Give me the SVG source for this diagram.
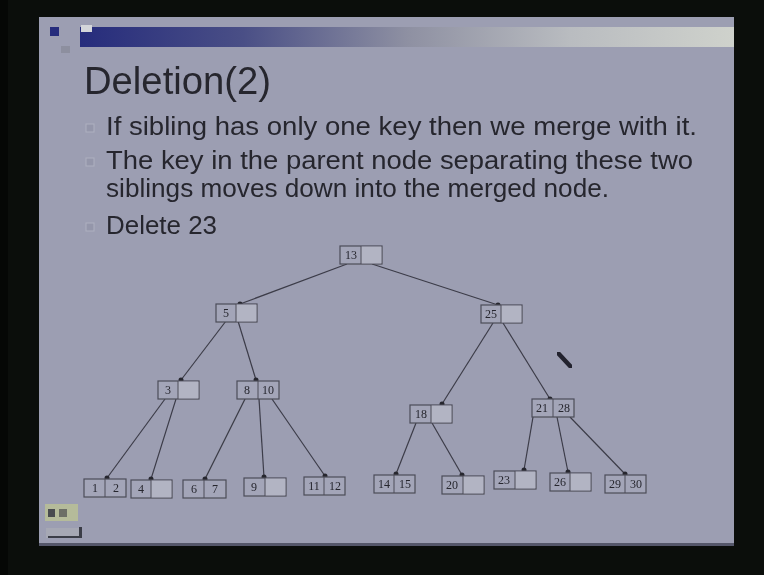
<svg xmlns="http://www.w3.org/2000/svg" width="764" height="575" viewBox="0 0 764 575">
  <defs>
    <linearGradient id="bar" x1="0" y1="0" x2="1" y2="0">
      <stop offset="0" stop-color="#262c7c"/>
      <stop offset="0.25" stop-color="#4a4f86"/>
      <stop offset="0.5" stop-color="#8e90a2"/>
      <stop offset="0.75" stop-color="#b9bcc0"/>
      <stop offset="1" stop-color="#cfd2cc"/>
    </linearGradient>
    <filter id="soft" x="-5%" y="-5%" width="110%" height="110%">
      <feGaussianBlur stdDeviation="0.6"/>
    </filter>
  </defs>
  <style>
    .txt { font-family: "Liberation Sans", Arial, sans-serif; fill: #26262e; }
    .title { font-size: 38px; }
    .body { font-size: 26px; }
    .bullet { fill: #9496aa; stroke: #aeb0c0; stroke-width: 1; }
    .box { fill: #a3a5b8; stroke: #4c4c58; stroke-width: 1.2; }
    .empty { fill: #b2b4c3; }
    .div { stroke: #4c4c58; stroke-width: 1; }
    .key { font-family: "Liberation Serif", "Times New Roman", serif; font-size: 12px; fill: #26262e; text-anchor: middle; }
    .edge { stroke: #3c3c48; stroke-width: 1.2; fill: none; }
    .dot { fill: #26262e; }
  </style>

  <!-- screen surround -->
  <rect x="0" y="0" width="764" height="575" fill="#0b0e0b"/>
  <rect x="0" y="0" width="8" height="575" fill="#050705"/>

  <!-- slide -->
  <rect x="39" y="17" width="695" height="529" fill="#9c9eb2"/>
  <rect x="39" y="543" width="695" height="3" fill="#55576a"/>

  <!-- header decoration -->
  <rect x="80" y="27" width="654" height="20" fill="url(#bar)"/>
  <rect x="50" y="27" width="9" height="9" fill="#262c7c"/>
  <rect x="81" y="25" width="11" height="7" fill="#d4d6da"/>
  <rect x="61" y="46" width="9" height="7" fill="#8d8f9f"/>

  <g filter="url(#soft)">
    <!-- title and bullets -->
    <text class="txt title" x="84" y="94" textLength="187" lengthAdjust="spacingAndGlyphs">Deletion(2)</text>

    <rect class="bullet" x="86" y="124" width="8" height="8"/>
    <text class="txt body" x="106" y="135" textLength="591" lengthAdjust="spacingAndGlyphs">If sibling has only one key then we merge with it.</text>
    <rect class="bullet" x="86" y="158" width="8" height="8"/>
    <text class="txt body" x="106" y="169" textLength="587" lengthAdjust="spacingAndGlyphs">The key in the parent node separating these two</text>
    <text class="txt body" x="106" y="197" textLength="503" lengthAdjust="spacingAndGlyphs">siblings moves down into the merged node.</text>
    <rect class="bullet" x="86" y="223" width="8" height="8"/>
    <text class="txt body" x="106" y="234" textLength="111" lengthAdjust="spacingAndGlyphs">Delete 23</text>

    <!-- connectors -->
    <g id="edges">
      <line class="edge" x1="347" y1="264" x2="240" y2="304"/>
      <line class="edge" x1="372" y1="264" x2="498" y2="305"/>
      <line class="edge" x1="226" y1="321" x2="181" y2="380"/>
      <line class="edge" x1="238" y1="321" x2="256" y2="380"/>
      <line class="edge" x1="493" y1="323" x2="442" y2="404"/>
      <line class="edge" x1="503" y1="323" x2="550" y2="399"/>
      <line class="edge" x1="165" y1="399" x2="107" y2="478"/>
      <line class="edge" x1="176" y1="399" x2="151" y2="479"/>
      <line class="edge" x1="245" y1="399" x2="205" y2="479"/>
      <line class="edge" x1="259" y1="399" x2="264" y2="477"/>
      <line class="edge" x1="272" y1="399" x2="325" y2="476"/>
      <line class="edge" x1="416" y1="423" x2="396" y2="474"/>
      <line class="edge" x1="432" y1="423" x2="462" y2="475"/>
      <line class="edge" x1="533" y1="417" x2="524" y2="470"/>
      <line class="edge" x1="557" y1="417" x2="568" y2="472"/>
      <line class="edge" x1="570" y1="417" x2="625" y2="474"/>
      <circle class="dot" cx="240" cy="304" r="2.5"/>
      <circle class="dot" cx="498" cy="305" r="2.5"/>
      <circle class="dot" cx="181" cy="380" r="2.5"/>
      <circle class="dot" cx="256" cy="380" r="2.5"/>
      <circle class="dot" cx="442" cy="404" r="2.5"/>
      <circle class="dot" cx="550" cy="399" r="2.5"/>
      <circle class="dot" cx="107" cy="478" r="2.5"/>
      <circle class="dot" cx="151" cy="479" r="2.5"/>
      <circle class="dot" cx="205" cy="479" r="2.5"/>
      <circle class="dot" cx="264" cy="477" r="2.5"/>
      <circle class="dot" cx="325" cy="476" r="2.5"/>
      <circle class="dot" cx="396" cy="474" r="2.5"/>
      <circle class="dot" cx="462" cy="475" r="2.5"/>
      <circle class="dot" cx="524" cy="470" r="2.5"/>
      <circle class="dot" cx="568" cy="472" r="2.5"/>
      <circle class="dot" cx="625" cy="474" r="2.5"/>
    </g>

    <!-- tree nodes: outer box, cell divider, keys -->
    <g id="n13">
      <rect class="box" x="340" y="246" width="42" height="18"/>
      <rect class="empty" x="361" y="246.6" width="20.4" height="16.8"/>
      <line class="div" x1="361" y1="246" x2="361" y2="264"/>
      <text class="key" x="351" y="259">13</text>
    </g>
    <g id="n5">
      <rect class="box" x="216" y="304" width="41" height="18"/>
      <rect class="empty" x="236" y="304.6" width="20.4" height="16.8"/>
      <line class="div" x1="236" y1="304" x2="236" y2="322"/>
      <text class="key" x="226" y="317">5</text>
    </g>
    <g id="n25">
      <rect class="box" x="481" y="305" width="41" height="18"/>
      <rect class="empty" x="501" y="305.6" width="20.4" height="16.8"/>
      <line class="div" x1="501" y1="305" x2="501" y2="323"/>
      <text class="key" x="491" y="318">25</text>
    </g>
    <g id="n3">
      <rect class="box" x="158" y="381" width="41" height="18"/>
      <rect class="empty" x="178" y="381.6" width="20.4" height="16.8"/>
      <line class="div" x1="178" y1="381" x2="178" y2="399"/>
      <text class="key" x="168" y="394">3</text>
    </g>
    <g id="n8_10">
      <rect class="box" x="237" y="381" width="42" height="18"/>
      <line class="div" x1="258" y1="381" x2="258" y2="399"/>
      <text class="key" x="247" y="394">8</text>
      <text class="key" x="268" y="394">10</text>
    </g>
    <g id="n18">
      <rect class="box" x="410" y="405" width="42" height="18"/>
      <rect class="empty" x="431" y="405.6" width="20.4" height="16.8"/>
      <line class="div" x1="431" y1="405" x2="431" y2="423"/>
      <text class="key" x="421" y="418">18</text>
    </g>
    <g id="n21_28">
      <rect class="box" x="532" y="399" width="42" height="18"/>
      <line class="div" x1="553" y1="399" x2="553" y2="417"/>
      <text class="key" x="542" y="412">21</text>
      <text class="key" x="564" y="412">28</text>
    </g>

    <g id="n1_2">
      <rect class="box" x="84" y="479" width="42" height="18"/>
      <line class="div" x1="105" y1="479" x2="105" y2="497"/>
      <text class="key" x="95" y="492">1</text>
      <text class="key" x="116" y="492">2</text>
    </g>
    <g id="n4">
      <rect class="box" x="131" y="480" width="41" height="18"/>
      <rect class="empty" x="151" y="480.6" width="20.4" height="16.8"/>
      <line class="div" x1="151" y1="480" x2="151" y2="498"/>
      <text class="key" x="141" y="493">4</text>
    </g>
    <g id="n6_7">
      <rect class="box" x="183" y="480" width="43" height="18"/>
      <line class="div" x1="204" y1="480" x2="204" y2="498"/>
      <text class="key" x="194" y="493">6</text>
      <text class="key" x="215" y="493">7</text>
    </g>
    <g id="n9">
      <rect class="box" x="244" y="478" width="42" height="18"/>
      <rect class="empty" x="265" y="478.6" width="20.4" height="16.8"/>
      <line class="div" x1="265" y1="478" x2="265" y2="496"/>
      <text class="key" x="254" y="491">9</text>
    </g>
    <g id="n11_12">
      <rect class="box" x="304" y="477" width="41" height="18"/>
      <line class="div" x1="324" y1="477" x2="324" y2="495"/>
      <text class="key" x="314" y="490">11</text>
      <text class="key" x="335" y="490">12</text>
    </g>
    <g id="n14_15">
      <rect class="box" x="374" y="475" width="41" height="18"/>
      <line class="div" x1="394" y1="475" x2="394" y2="493"/>
      <text class="key" x="384" y="488">14</text>
      <text class="key" x="405" y="488">15</text>
    </g>
    <g id="n20">
      <rect class="box" x="442" y="476" width="42" height="18"/>
      <rect class="empty" x="463" y="476.6" width="20.4" height="16.8"/>
      <line class="div" x1="463" y1="476" x2="463" y2="494"/>
      <text class="key" x="452" y="489">20</text>
    </g>
    <g id="n23">
      <rect class="box" x="494" y="471" width="42" height="18"/>
      <rect class="empty" x="515" y="471.6" width="20.4" height="16.8"/>
      <line class="div" x1="515" y1="471" x2="515" y2="489"/>
      <text class="key" x="504" y="484">23</text>
    </g>
    <g id="n26">
      <rect class="box" x="550" y="473" width="41" height="18"/>
      <rect class="empty" x="570" y="473.6" width="20.4" height="16.8"/>
      <line class="div" x1="570" y1="473" x2="570" y2="491"/>
      <text class="key" x="560" y="486">26</text>
    </g>
    <g id="n29_30">
      <rect class="box" x="605" y="475" width="41" height="18"/>
      <line class="div" x1="625" y1="475" x2="625" y2="493"/>
      <text class="key" x="615" y="488">29</text>
      <text class="key" x="636" y="488">30</text>
    </g>
  </g>

  <!-- pen pointer mark -->
  <line x1="558" y1="353" x2="571" y2="367" stroke="#24242e" stroke-width="4.5" stroke-linecap="round" filter="url(#soft)"/>

  <!-- small corner icon -->
  <g filter="url(#soft)">
    <rect x="45" y="504" width="33" height="17" fill="#b5bb9a"/>
    <rect x="48" y="509" width="7" height="8" fill="#4a4c50"/>
    <rect x="59" y="509" width="8" height="8" fill="#6c6e66"/>
    <rect x="46" y="528" width="36" height="10" fill="#a6a8b4"/>
    <rect x="48" y="536" width="34" height="2" fill="#3a3c46"/>
    <rect x="79" y="527" width="3" height="11" fill="#3a3c46"/>
  </g>
</svg>
